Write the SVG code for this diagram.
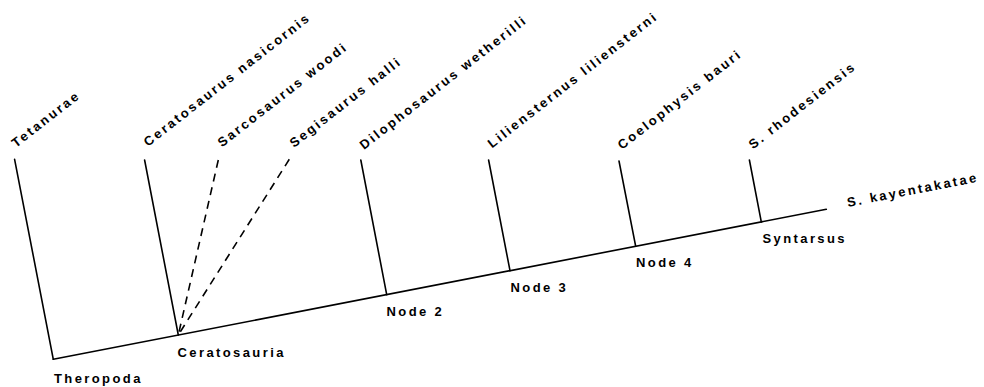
<svg xmlns="http://www.w3.org/2000/svg" width="984" height="387" viewBox="0 0 984 387">
<style>
.ln{stroke:#000;stroke-width:1.6;fill:none;stroke-linecap:round}
.dash{stroke:#000;stroke-width:1.6;fill:none;stroke-dasharray:8,6}
text{font-family:"Liberation Sans",Arial,sans-serif;font-size:13px;font-weight:bold;letter-spacing:2.4px;fill:#000}
</style>
<rect width="984" height="387" fill="#fff"/>
<g id="connectors">
<line class="ln" x1="53.3" y1="359.3" x2="826.3" y2="209.3"/>
<line class="ln" x1="14.6" y1="159.3" x2="53.3" y2="359.3"/>
<line class="ln" x1="144.6" y1="160" x2="178.3" y2="335"/>
<line class="dash" x1="218.3" y1="160" x2="178.3" y2="335"/>
<line class="dash" x1="289.3" y1="159.3" x2="178.3" y2="335"/>
<line class="ln" x1="360.8" y1="160" x2="386.7" y2="294.6"/>
<line class="ln" x1="488.6" y1="160" x2="510" y2="270.7"/>
<line class="ln" x1="619" y1="161" x2="635.7" y2="246.3"/>
<line class="ln" x1="749.4" y1="160" x2="761.3" y2="221.9"/>
</g>
<g id="tetanurae"><text transform="translate(16,148) rotate(-38)">Tetanurae</text></g>
<g id="ceratosaurus"><text transform="translate(148,147) rotate(-38)">Ceratosaurus nasicornis</text></g>
<g id="sarcosaurus"><text transform="translate(222,147.5) rotate(-38)">Sarcosaurus woodi</text></g>
<g id="segisaurus"><text transform="translate(294,148) rotate(-38)">Segisaurus halli</text></g>
<g id="dilophosaurus"><text transform="translate(364,150) rotate(-38)">Dilophosaurus wetherilli</text></g>
<g id="liliensternus"><text transform="translate(492,148.5) rotate(-38)">Liliensternus liliensterni</text></g>
<g id="coelophysis"><text transform="translate(622,150) rotate(-38)">Coelophysis bauri</text></g>
<g id="rhodesiensis"><text transform="translate(753,149.5) rotate(-38)">S. rhodesiensis</text></g>
<g id="kayentakatae"><text transform="translate(848,207) rotate(-11)">S. kayentakatae</text></g>
<g id="theropoda"><text x="54" y="382.5">Theropoda</text></g>
<g id="ceratosauria"><text x="177.5" y="356.5">Ceratosauria</text></g>
<g id="node2"><text x="386.5" y="316">Node 2</text></g>
<g id="node3"><text x="510.5" y="292.3">Node 3</text></g>
<g id="node4"><text x="636" y="267.3">Node 4</text></g>
<g id="syntarsus"><text x="762.5" y="242.5">Syntarsus</text></g>
</svg>
